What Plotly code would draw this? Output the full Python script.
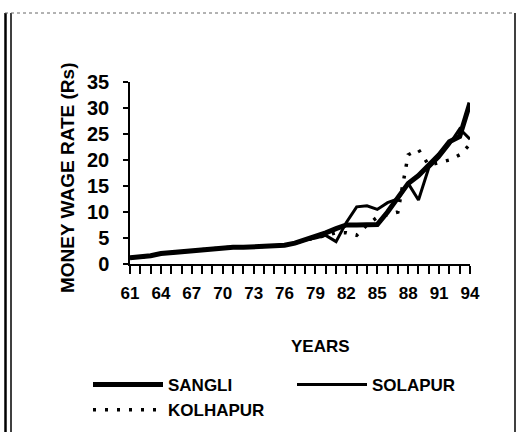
import plotly.graph_objects as go

years = list(range(61, 95))
sangli = [1.2, 1.3, 1.6, 2.0, 2.2, 2.4, 2.6, 2.8, 3.0, 3.1, 3.2, 3.2, 3.3, 3.4, 3.5, 3.6, 4.0, 4.6, 5.3, 6.0,
          6.8, 7.5, 7.5, 7.6, 7.6, 10.0, 12.8, 15.5, 17.0, 19.0, 21.0, 23.5, 24.5, 31.0]
solapur = [1.2, 1.3, 1.6, 2.0, 2.2, 2.4, 2.6, 2.8, 3.0, 3.1, 3.2, 3.2, 3.3, 3.4, 3.5, 3.6, 4.0, 4.6, 5.0, 5.5,
           4.3, 8.0, 11.0, 11.2, 10.5, 11.8, 12.5, 15.5, 12.3, 18.5, 20.5, 23.0, 26.0, 24.0]
kolhapur = [1.2, 1.3, 1.6, 2.0, 2.2, 2.4, 2.6, 2.8, 3.0, 3.1, 3.2, 3.2, 3.3, 3.4, 3.5, 3.6, 4.0, 4.6, 5.0, 5.5,
            6.0, 6.0, 5.5, 7.5, 9.0, 9.5, 10.0, 21.0, 22.0, 19.0, 19.5, 20.0, 21.0, 23.0]
xtick_vals = list(range(61, 95, 3))
ytick_vals = list(range(0, 36, 5))

FONT = "Liberation Sans, Arial, sans-serif"

fig = go.Figure()
fig.add_trace(go.Scatter(x=years, y=sangli, name="<b>SANGLI</b>", mode="lines",
                         line=dict(color="black", width=5)))
fig.add_trace(go.Scatter(x=years, y=solapur, name="<b>SOLAPUR</b>", mode="lines",
                         line=dict(color="black", width=3)))
fig.add_trace(go.Scatter(x=years, y=kolhapur, name="<b>KOLHAPUR</b>", mode="lines",
                         line=dict(color="black", width=3.5, dash="3px,9px")))

def px_x(p):
    return (p - 130) / 340

def px_y(p):
    return (264 - p) / 182

fig.update_layout(
    width=518, height=432,
    margin=dict(l=130, r=48, t=82, b=168, autoexpand=False),
    paper_bgcolor="white", plot_bgcolor="white",
    font=dict(family=FONT, color="black", size=16),
    showlegend=True,
    legend=dict(orientation="h", x=px_x(88), y=px_y(367), xanchor="left", yanchor="top",
                entrywidth=119, itemwidth=70, font=dict(size=17, family=FONT),
                bgcolor="rgba(0,0,0,0)"),
    xaxis=dict(range=[61, 94], tickmode="array", tickvals=xtick_vals,
               ticktext=[f"<b>{v}</b>" for v in xtick_vals],
               showline=True, linecolor="black", linewidth=1.5, showgrid=False, zeroline=False,
               ticks="outside", ticklen=8, tickwidth=1.5, tickcolor="black",
               minor=dict(dtick=1, tick0=61, ticks="outside", ticklen=8, tickwidth=1.5, tickcolor="black"),
               tickfont=dict(size=17, family=FONT), ticklabelstandoff=5),
    yaxis=dict(range=[0, 35], tickmode="array", tickvals=ytick_vals,
               ticktext=[f"<b>{v}</b>" for v in ytick_vals],
               showline=True, linecolor="black", linewidth=1.5, showgrid=False, zeroline=False,
               ticks="outside", ticklen=5, tickwidth=1.5, tickcolor="black",
               tickfont=dict(size=20, family=FONT), ticklabelstandoff=10),
    annotations=[
        dict(text="<b>MONEY WAGE RATE (Rs)</b>", xref="paper", yref="paper", x=px_x(67), y=px_y(178),
             textangle=-90, showarrow=False, font=dict(size=19, family=FONT), xanchor="center", yanchor="middle"),
        dict(text="<b>YEARS</b>", xref="paper", yref="paper", x=px_x(320), y=px_y(346),
             showarrow=False, font=dict(size=17, family=FONT), xanchor="center", yanchor="middle"),
    ],
)
fig.add_shape(type="line", xref="paper", yref="paper", x0=px_x(5.5), x1=px_x(5.5), y0=px_y(13), y1=px_y(432),
              line=dict(color="black", width=2.5))
fig.add_shape(type="line", xref="paper", yref="paper", x0=px_x(11), x1=px_x(11), y0=px_y(13), y1=px_y(432),
              line=dict(color="black", width=1.5))
fig.add_shape(type="line", xref="paper", yref="paper", x0=px_x(515), x1=px_x(515), y0=px_y(13), y1=px_y(432),
              line=dict(color="black", width=1.5))
fig.add_shape(type="line", xref="paper", yref="paper", x0=px_x(5), x1=px_x(515), y0=px_y(13), y1=px_y(13),
              line=dict(color="#666", width=1, dash="dot"))

fig.write_html("out.html", config={"displayModeBar": False},
               post_script="document.body.style.margin='0';")
